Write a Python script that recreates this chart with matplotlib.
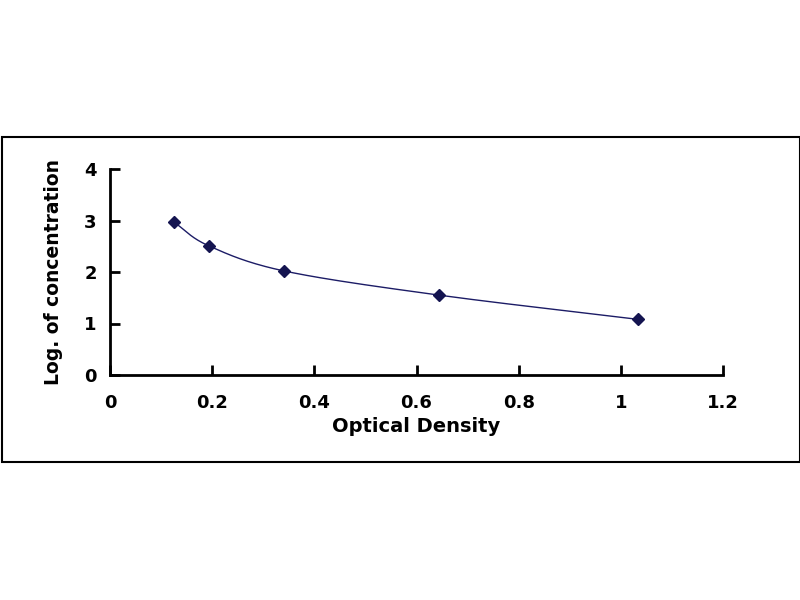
import matplotlib
matplotlib.use("Agg")
import matplotlib.pyplot as plt
import numpy as np

# datos
od = [0.125, 0.193, 0.341, 0.645, 1.034]
log_conc = [2.97, 2.51, 2.02, 1.55, 1.08]
x_ticks = [0, 0.2, 0.4, 0.6, 0.8, 1, 1.2]
x_tick_labels = ["0", "0.2", "0.4", "0.6", "0.8", "1", "1.2"]
y_ticks = [0, 1, 2, 3, 4]

plt.rcParams['font.family'] = ['DejaVu Sans']


# curva suavizada tipo Catmull-Rom entre los puntos
def suavizar(x, y, n=40):
    x = np.asarray(x, float)
    y = np.asarray(y, float)
    px = np.concatenate([[2 * x[0] - x[1]], x, [2 * x[-1] - x[-2]]])
    py = np.concatenate([[2 * y[0] - y[1]], y, [2 * y[-1] - y[-2]]])
    xs, ys = [], []
    for i in range(1, len(px) - 2):
        t = np.linspace(0, 1, n)
        for p, out in ((px, xs), (py, ys)):
            p0, p1, p2, p3 = p[i - 1], p[i], p[i + 1], p[i + 2]
            out.extend(0.5 * (2 * p1 + (-p0 + p2) * t
                              + (2 * p0 - 5 * p1 + 4 * p2 - p3) * t ** 2
                              + (-p0 + 3 * p1 - 3 * p2 + p3) * t ** 3))
    return np.array(xs), np.array(ys)


fig = plt.figure(figsize=(8, 6), dpi=100)

# marco exterior
fig.patches.append(plt.Rectangle((2 / 800, 1 - 462 / 600), 798 / 800, 325 / 600,
                                 transform=fig.transFigure, fill=False,
                                 edgecolor='black', linewidth=1.5))

ax = fig.add_axes([110 / 800, 1 - 375 / 600, 613 / 800, 206 / 600])

cx, cy = suavizar(od, log_conc)
ax.plot(cx, cy, color='#1c1c66', linewidth=1)
ax.plot(od, log_conc, linestyle='none', marker='D', markersize=6,
        color='#141450')

ax.set_xlim(0, 1.2)
ax.set_ylim(0, 4)
ax.set_xticks(x_ticks)
ax.set_xticklabels(x_tick_labels)
ax.set_yticks(y_ticks)

ax.spines['top'].set_visible(False)
ax.spines['right'].set_visible(False)
ax.spines['left'].set_linewidth(2)
ax.spines['bottom'].set_linewidth(2)
ax.tick_params(direction='in', length=7, width=2, labelsize=13)
ax.tick_params(axis='x', pad=14)
ax.tick_params(axis='y', pad=9.5)
for lab in ax.get_xticklabels() + ax.get_yticklabels():
    lab.set_fontweight('bold')

ax.set_xlabel('Optical Density', fontsize=14, fontweight='bold', labelpad=3)
ax.set_ylabel('Log. of concentration', fontsize=13.5, fontweight='bold', labelpad=15)

fig.savefig('out.png', dpi=100)
